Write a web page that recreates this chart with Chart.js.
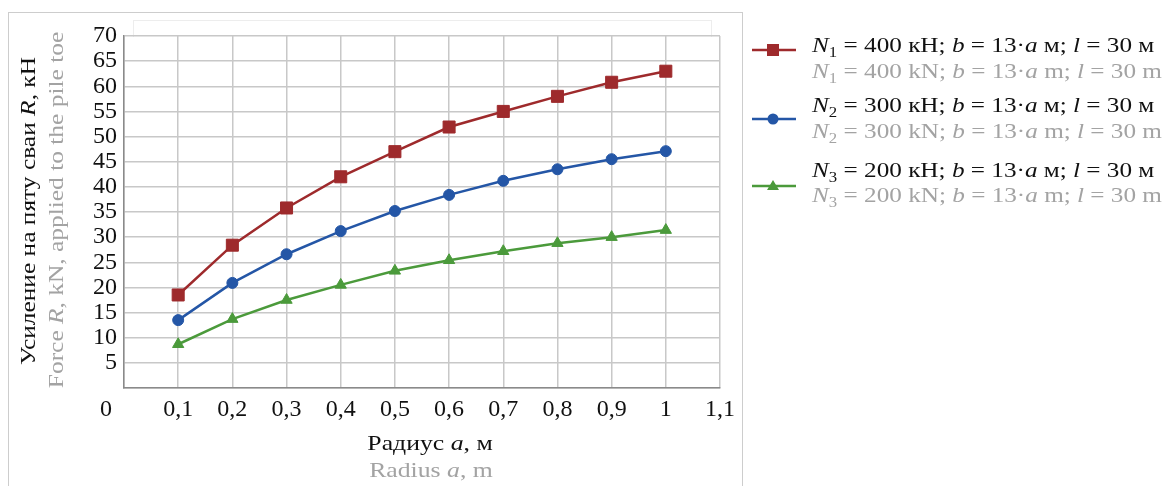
<!DOCTYPE html>
<html>
<head>
<meta charset="utf-8">
<script src="https://cdn.jsdelivr.net/npm/chart.js@4/dist/chart.umd.min.js"></script>
<style>
  body { margin: 0; background: #fff; font-family: "Liberation Serif", "Times New Roman", serif; }
  #wrap { position: relative; width: 1170px; height: 486px; overflow: hidden; }
  #frame { position: absolute; left: 8px; top: 12px; width: 733px; height: 480px;
           border: 1.5px solid #cdcdcd; border-bottom: none; }
  #titlebox { position: absolute; left: 133px; top: 20px; width: 577px; height: 16px;
              border: 1px solid #ededed; border-bottom: none; }
  #chart { position: absolute; left: 0; top: 0; }
  .ytitle { position: absolute; white-space: nowrap; font-size: 22px;
            transform: translate(-50%, -50%) rotate(-90deg) scaleX(1.155); }
  .xtitle { position: absolute; white-space: nowrap; font-size: 22px;
            transform: translate(-50%, -50%) scaleX(1.17); }
  .black { color: #111; }
  .gray { color: #a3a3a3; }
  .leg { position: absolute; left: 812px; white-space: nowrap; font-size: 21px;
         transform-origin: 0 50%; transform: translateY(-50%) scaleX(1.2); }
  .leg sub { font-size: 14px; vertical-align: -5px; line-height: 0; }
  .mark { position: absolute; left: 750px; }
</style>
</head>
<body>
<div id="wrap">
  <div id="frame"></div>
  <div id="titlebox"></div>
  <canvas id="chart" width="1170" height="486"></canvas>

  <div class="ytitle black" style="left:28px; top:211px;">Усиление на пяту сваи <i>R</i>, кН</div>
  <div class="ytitle gray" style="left:56px; top:210px;">Force <i>R</i>, kN, applied to the pile toe</div>
  <div class="xtitle black" style="left:430px; top:443px;">Радиус <i>a</i>, м</div>
  <div class="xtitle gray" style="left:431px; top:470px;">Radius <i>a</i>, m</div>

  <div id="legend"></div>
</div>

<script>
// --- DATA ---
const radius = [0.1, 0.2, 0.3, 0.4, 0.5, 0.6, 0.7, 0.8, 0.9, 1.0];
const forceN1 = [18.5, 28.4, 35.8, 42.0, 47.0, 51.9, 55.0, 58.0, 60.8, 63.0];
const forceN2 = [13.5, 20.9, 26.6, 31.2, 35.2, 38.4, 41.2, 43.5, 45.5, 47.1];
const forceN3 = [8.7, 13.7, 17.5, 20.5, 23.3, 25.4, 27.2, 28.8, 30.0, 31.4];

const legendRu = [
    '<i>N</i><sub>1</sub> = 400 кН; <i>b</i> = 13·<i>a</i> м; <i>l</i> = 30 м',
    '<i>N</i><sub>2</sub> = 300 кН; <i>b</i> = 13·<i>a</i> м; <i>l</i> = 30 м',
    '<i>N</i><sub>3</sub> = 200 кН; <i>b</i> = 13·<i>a</i> м; <i>l</i> = 30 м'
];
const legendEn = [
    '<i>N</i><sub>1</sub> = 400 kN; <i>b</i> = 13·<i>a</i> m; <i>l</i> = 30 m',
    '<i>N</i><sub>2</sub> = 300 kN; <i>b</i> = 13·<i>a</i> m; <i>l</i> = 30 m',
    '<i>N</i><sub>3</sub> = 200 kN; <i>b</i> = 13·<i>a</i> m; <i>l</i> = 30 m'
];

const seriesColors = ['#9e2a2c', '#2456a6', '#4b9a3b'];
const seriesPoints = ['rect', 'circle', 'triangle'];
const seriesRadius = [8.5, 5.5, 6.5];

// legend layout (row centres)
const legendRuY = [45, 105, 170];
const legendEnY = [71, 131, 195];
const legendMarkY = [50, 119, 186];

function toPoints(values) {
    return radius.map((r, i) => ({ x: r, y: values[i] }));
}

const datasets = [forceN1, forceN2, forceN3].map((values, i) => ({
    data: toPoints(values),
    borderColor: seriesColors[i],
    backgroundColor: seriesColors[i],
    borderWidth: 2.5,
    pointStyle: seriesPoints[i],
    pointRadius: seriesRadius[i],
    pointBorderWidth: 1,
    tension: 0
}));

const tickFont = { family: '"Liberation Serif", "Times New Roman", serif', size: 24 };

new Chart(document.getElementById('chart').getContext('2d'), {
    type: 'line',
    data: { datasets: datasets },
    options: {
        responsive: false,
        animation: false,
        layout: { padding: { left: 0, top: 36, right: 450, bottom: 0 } },
        plugins: { legend: { display: false }, tooltip: { enabled: false } },
        scales: {
            x: {
                type: 'linear',
                min: 0,
                max: 1.1,
                ticks: {
                    stepSize: 0.1,
                    color: '#111',
                    font: tickFont,
                    padding: 7,
                    maxRotation: 0,
                    autoSkip: false,
                    callback: function (v) {
                        const r = Math.round(v * 10) / 10;
                        if (r === 0) return '0      ';
                        return String(r).replace('.', ',');
                    }
                },
                grid: { color: '#c8c8c8', lineWidth: 1.5, drawTicks: false },
                border: { color: '#8a8a8a', width: 1.5 },
                afterFit: function (scale) { scale.height = 98; }
            },
            y: {
                min: 0,
                max: 70,
                ticks: {
                    stepSize: 5,
                    autoSkip: false,
                    color: '#111',
                    font: tickFont,
                    padding: 7,
                    callback: function (v) { return v === 0 ? '' : v; }
                },
                grid: { color: '#c8c8c8', lineWidth: 1.5, drawTicks: false },
                border: { color: '#8a8a8a', width: 1.5 },
                afterFit: function (scale) { scale.width = 124; }
            }
        }
    }
});

// --- LEGEND (html text, svg markers) ---
function markerSvg(i) {
    const c = seriesColors[i];
    let shape;
    if (seriesPoints[i] === 'rect') {
        shape = `<rect x="17" y="5" width="12" height="12" fill="${c}"/>`;
    } else if (seriesPoints[i] === 'circle') {
        shape = `<circle cx="23" cy="11" r="5.5" fill="${c}"/>`;
    } else {
        shape = `<polygon points="23,5 29,15 17,15" fill="${c}"/>`;
    }
    return `<svg width="48" height="22"><line x1="2" y1="11" x2="46" y2="11" stroke="${c}" stroke-width="2.5"/>${shape}</svg>`;
}

const legendEl = document.getElementById('legend');
legendRu.forEach((txt, i) => {
    legendEl.insertAdjacentHTML('beforeend',
        `<div class="mark" style="top:${legendMarkY[i] - 11}px">${markerSvg(i)}</div>` +
        `<div class="leg black" style="top:${legendRuY[i]}px">${txt}</div>` +
        `<div class="leg gray" style="top:${legendEnY[i]}px">${legendEn[i]}</div>`);
});
</script>
</body>
</html>
